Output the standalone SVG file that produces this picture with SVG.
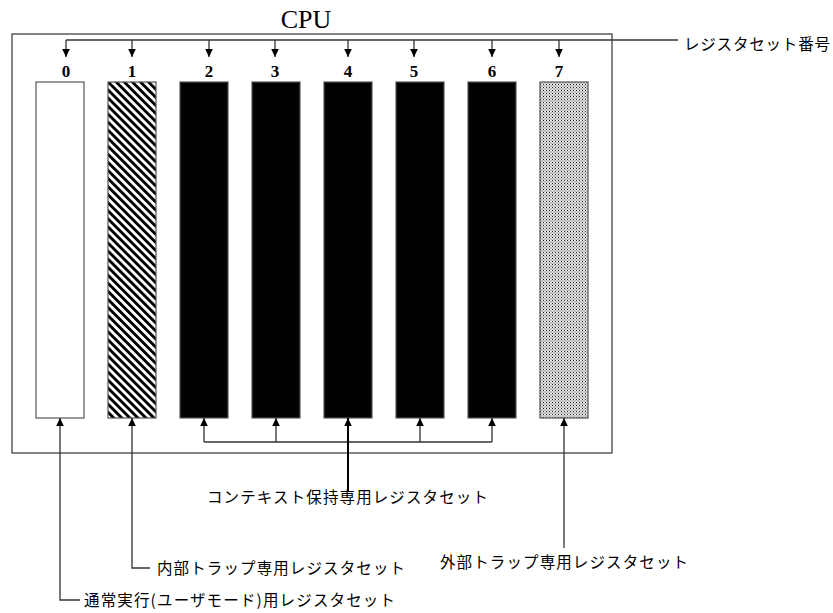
<svg xmlns="http://www.w3.org/2000/svg" width="833" height="613" viewBox="0 0 833 613">
<style>
.ln{stroke:#333;stroke-width:1.3;fill:none}
.rg{stroke:#555;stroke-width:1.2}
.num{font-family:"Liberation Serif",serif;font-weight:bold;font-size:17px;text-anchor:middle;fill:#000}
.jp{font-family:"Noto Sans CJK JP","Noto Sans",sans-serif;font-size:15.5px;fill:#000}
</style>
<defs>
<marker id="ah" viewBox="0 0 8 10" refX="8" refY="5" markerWidth="8" markerHeight="10" markerUnits="userSpaceOnUse" orient="auto">
<path d="M0,1.2 L8,5 L0,8.8 Z" fill="#000"/>
</marker>
<pattern id="stripe" width="5.7" height="5.7" patternUnits="userSpaceOnUse" patternTransform="rotate(-45)">
<rect width="5.7" height="5.7" fill="#fff"/>
<rect width="2.9" height="5.7" fill="#000"/>
</pattern>
<pattern id="dots" width="3" height="3" patternUnits="userSpaceOnUse">
<rect width="3" height="3" fill="#d8d8d8"/>
<rect x="0" y="0" width="1" height="1" fill="#222"/>
<rect x="1.5" y="1.5" width="1" height="1" fill="#777"/>
<rect x="1.5" y="0" width="1" height="1" fill="#fff"/>
</pattern>
</defs>
<text x="306" y="28" font-family="Liberation Serif,serif" font-size="26" text-anchor="middle">CPU</text>
<rect id="cpu" x="12" y="34" width="600" height="419" fill="none" stroke="#444" stroke-width="1.3"/>

<g id="reg0"><rect x="36" y="82" width="48" height="336" fill="#fff" class="rg"/><text class="num" x="66" y="77">0</text></g>
<g id="reg1"><rect x="108" y="82" width="48" height="336" fill="url(#stripe)" class="rg"/><text class="num" x="132" y="77">1</text></g>
<g id="reg2"><rect x="180" y="82" width="48" height="336" fill="#000" class="rg"/><text class="num" x="209" y="77">2</text></g>
<g id="reg3"><rect x="252" y="82" width="48" height="336" fill="#000" class="rg"/><text class="num" x="275" y="77">3</text></g>
<g id="reg4"><rect x="324" y="82" width="48" height="336" fill="#000" class="rg"/><text class="num" x="348" y="77">4</text></g>
<g id="reg5"><rect x="396" y="82" width="48" height="336" fill="#000" class="rg"/><text class="num" x="414" y="77">5</text></g>
<g id="reg6"><rect x="468" y="82" width="48" height="336" fill="#000" class="rg"/><text class="num" x="492" y="77">6</text></g>
<g id="reg7"><rect x="540" y="82" width="48" height="336" fill="url(#dots)" class="rg"/><text class="num" x="559" y="77">7</text></g>

<g id="connectors">
<path class="ln" d="M66,40 H678"/>
<path class="ln" d="M66,40 V57" marker-end="url(#ah)"/>
<path class="ln" d="M132,40 V57" marker-end="url(#ah)"/>
<path class="ln" d="M209,40 V57" marker-end="url(#ah)"/>
<path class="ln" d="M275,40 V57" marker-end="url(#ah)"/>
<path class="ln" d="M348,40 V57" marker-end="url(#ah)"/>
<path class="ln" d="M414,40 V57" marker-end="url(#ah)"/>
<path class="ln" d="M492,40 V57" marker-end="url(#ah)"/>
<path class="ln" d="M559,40 V57" marker-end="url(#ah)"/>

<path class="ln" d="M80,600 H60 V418" marker-end="url(#ah)"/>
<path class="ln" d="M150,568 H132 V418" marker-end="url(#ah)"/>
<path class="ln" d="M204,442 H492"/>
<path class="ln" d="M204,442 V418" marker-end="url(#ah)"/>
<path class="ln" d="M276,442 V418" marker-end="url(#ah)"/>
<path class="ln" d="M420,442 V418" marker-end="url(#ah)"/>
<path class="ln" d="M492,442 V418" marker-end="url(#ah)"/>
<path d="M348,492 V418" stroke="#000" stroke-width="2" fill="none" marker-end="url(#ah)"/>
<path class="ln" d="M564,548 V418" marker-end="url(#ah)"/>
</g>

<g id="labels">
<text class="jp" x="684" y="50" textLength="146" lengthAdjust="spacing">レジスタセット番号</text>
<text class="jp" x="207" y="503" textLength="281" lengthAdjust="spacing">コンテキスト保持専用レジスタセット</text>
<text class="jp" x="157" y="574" textLength="248" lengthAdjust="spacing">内部トラップ専用レジスタセット</text>
<text class="jp" x="440" y="568" textLength="248" lengthAdjust="spacing">外部トラップ専用レジスタセット</text>
<text class="jp" x="84" y="606" textLength="311" lengthAdjust="spacing">通常実行(ユーザモード)用レジスタセット</text>
</g>
</svg>
